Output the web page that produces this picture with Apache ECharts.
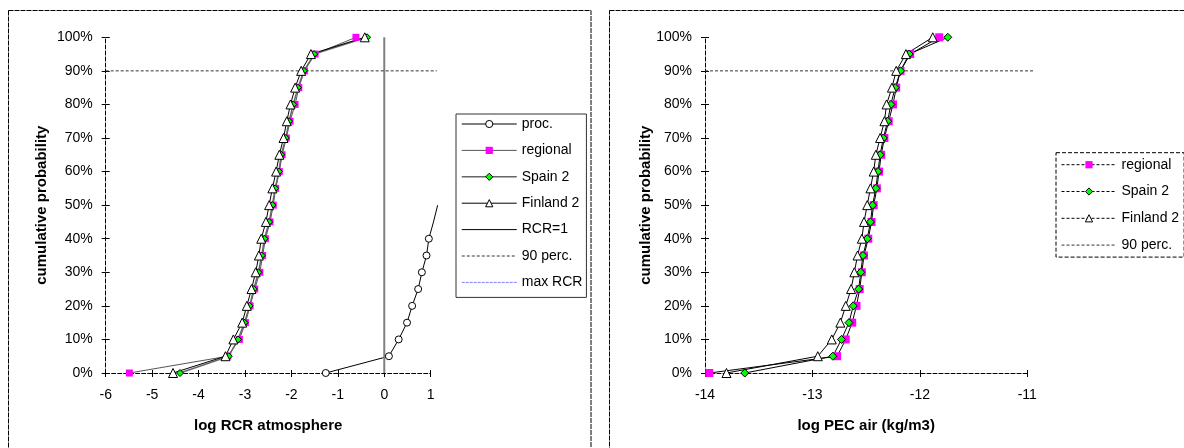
<!DOCTYPE html>
<html>
<head>
<meta charset="utf-8">
<script src="https://cdn.jsdelivr.net/npm/echarts@6/dist/echarts.min.js"></script>
<style>
  html, body { margin: 0; padding: 0; background: #fff; }
  #rcr { position: absolute; left: 0; top: 0; width: 596px; height: 448px; }
  #pec { position: absolute; left: 596px; top: 0; width: 588px; height: 448px; }
</style>
</head>
<body>
<div id="rcr"></div>
<div id="pec"></div>
<script>
// Cumulative probability levels shared by every distribution
const probs = [0, 0.05, 0.10, 0.15, 0.20, 0.25, 0.30, 0.35, 0.40, 0.45, 0.50,
               0.55, 0.60, 0.65, 0.70, 0.75, 0.80, 0.85, 0.90, 0.95, 1.00];

// log RCR atmosphere
const rcrProc     = [-1.26, 0.10, 0.31, 0.49, 0.60, 0.73, 0.81, 0.91, 0.96, 1.06, 1.15];
const rcrRegional = [-5.49, -3.37, -3.12, -2.99, -2.89, -2.79, -2.68, -2.62, -2.56, -2.46, -2.39,
                     -2.34, -2.26, -2.20, -2.11, -2.03, -1.92, -1.84, -1.72, -1.49, -0.61];
const rcrSpain2   = [-4.40, -3.35, -3.15, -3.01, -2.90, -2.81, -2.71, -2.64, -2.58, -2.48, -2.41,
                     -2.35, -2.27, -2.22, -2.12, -2.05, -1.96, -1.86, -1.73, -1.51, -0.37];
const rcrFinland2 = [-4.55, -3.42, -3.25, -3.06, -2.96, -2.86, -2.77, -2.70, -2.65, -2.55, -2.48,
                     -2.41, -2.33, -2.26, -2.17, -2.10, -2.02, -1.92, -1.79, -1.58, -0.42];
const rcrOne      = 0;          // log(RCR = 1)
const rcrMaxRcr   = [];         // maximum RCR lies outside the plotted range
const rcrXTicks   = [-6, 1];    // first and last tick, step 1
const rcrPlotEdge = 1.13;       // right edge of the plot area

// log PEC air (kg/m3)
const pecRegional = [-13.96, -12.77, -12.69, -12.63, -12.59, -12.56, -12.54, -12.52, -12.48, -12.45, -12.43,
                     -12.40, -12.38, -12.36, -12.33, -12.29, -12.25, -12.22, -12.18, -12.09, -11.82];
const pecSpain2   = [-13.63, -12.81, -12.73, -12.66, -12.62, -12.57, -12.55, -12.53, -12.49, -12.46, -12.44,
                     -12.41, -12.39, -12.37, -12.34, -12.30, -12.27, -12.23, -12.18, -12.10, -11.74];
const pecFinland2 = [-13.80, -12.95, -12.82, -12.74, -12.69, -12.64, -12.61, -12.58, -12.54, -12.52, -12.49,
                     -12.46, -12.43, -12.41, -12.37, -12.33, -12.31, -12.26, -12.22, -12.13, -11.88];
const pecXTicks   = [-14, -11];
const pecPlotEdge = -10.94;

const perc90 = 0.9;
const yTicks = [0, 1];          // 0% .. 100%, step 10%

const FONT = "'Liberation Sans', Arial, Helvetica, sans-serif";

// pair x values with probabilities; markers past the axis end are not drawn
function pairs(xs, axisMax) {
  return xs.map((x, i) => x > axisMax ? { value: [x, probs[i]], symbol: 'none' } : [x, probs[i]]);
}

// visible axes (outer ticks + labels), a twin for the inner half of each cross tick,
// and a hidden pair spanning the whole plot area for the series
function axesFor(xTicks, plotEdge, xName, yNameGap) {
  const axisLineStyle = { color: '#000', width: 1, type: 'dashed' };
  const tickStyle = { color: '#000', width: 1 };
  const xMain = {
    gridIndex: 0, type: 'value', min: xTicks[0], max: xTicks[1], interval: 1, position: 'bottom',
    axisLine: { show: true, onZero: false, lineStyle: axisLineStyle },
    axisTick: { show: true, length: 4, lineStyle: tickStyle },
    axisLabel: { margin: 15, fontSize: 14, color: '#000', fontFamily: FONT },
    splitLine: { show: false },
    name: xName, nameLocation: 'middle', nameGap: 45, nameMoveOverlap: false,
    nameTextStyle: { fontWeight: 'bold', fontSize: 15, color: '#000', fontFamily: FONT }
  };
  const xInner = {
    gridIndex: 0, type: 'value', min: xTicks[0], max: xTicks[1], interval: 1, position: 'bottom',
    axisLine: { show: false, onZero: false },
    axisTick: { show: true, inside: true, length: 3, lineStyle: tickStyle },
    axisLabel: { show: false }, splitLine: { show: false }
  };
  const xData = { gridIndex: 1, type: 'value', min: xTicks[0], max: plotEdge, show: false,
                  axisLine: { onZero: false } };
  const yMain = {
    gridIndex: 0, type: 'value', min: yTicks[0], max: yTicks[1], interval: 0.1, position: 'left',
    axisLine: { show: true, onZero: false, lineStyle: axisLineStyle },
    axisTick: { show: true, length: 4, lineStyle: tickStyle },
    axisLabel: { margin: 13, fontSize: 14, color: '#000', fontFamily: FONT,
                 formatter: v => Math.round(v * 100) + '%' },
    splitLine: { show: false },
    name: 'cumulative probability', nameLocation: 'middle', nameGap: yNameGap, nameRotate: 90,
    nameMoveOverlap: false,
    nameTextStyle: { fontWeight: 'bold', fontSize: 15, color: '#000', fontFamily: FONT }
  };
  const yInner = {
    gridIndex: 0, type: 'value', min: yTicks[0], max: yTicks[1], interval: 0.1, position: 'left',
    axisLine: { show: false, onZero: false },
    axisTick: { show: true, inside: true, length: 4, lineStyle: tickStyle },
    axisLabel: { show: false }, splitLine: { show: false }
  };
  const yData = { gridIndex: 1, type: 'value', min: yTicks[0], max: yTicks[1], show: false,
                  axisLine: { onZero: false } };
  return { xAxis: [xMain, xInner, xData], yAxis: [yMain, yInner, yData] };
}

function gridsFor(left, width, xTicks, plotEdge) {
  const span = xTicks[1] - xTicks[0];
  const top = 37.3, height = 335.7;
  return [
    { left, top, width, height, outerBoundsMode: 'none' },
    { left, top, width: width * (plotEdge - xTicks[0]) / span, height, outerBoundsMode: 'none' }
  ];
}

const onData = { xAxisIndex: 2, yAxisIndex: 2, clip: true, animation: false };
const hidden = { color: 'rgba(0,0,0,0)', borderColor: 'rgba(0,0,0,0)', borderWidth: 0 };
const legendBase = {
  orient: 'vertical', itemWidth: 55, itemHeight: 9, itemTextGap: 5,
  lineStyle: { width: 'inherit' },
  itemStyle: { borderWidth: 'inherit' },
  textStyle: { fontSize: 14, lineHeight: 16, color: '#000', fontFamily: FONT }
};

// ---------- log RCR atmosphere ----------
const rcrChart = echarts.init(document.getElementById('rcr'), null, { renderer: 'canvas' });
rcrChart.setOption(Object.assign({
  animation: false,
  backgroundColor: '#fff',
  textStyle: { fontFamily: FONT },
  grid: gridsFor(105.7, 325, rcrXTicks, rcrPlotEdge),
  graphic: [{
    type: 'rect', silent: true,
    shape: { x: 8.5, y: 10.5, width: 582.5, height: 470 },
    style: { fill: 'none', stroke: '#000', lineWidth: 1, lineDash: [5, 1] }
  }],
  legend: Object.assign({}, legendBase, {
    left: 456, top: 114,
    padding: [2, 4, 7, 5], itemGap: 10.4,
    borderColor: '#333', borderWidth: 1,
    data: [
      { name: 'proc.' },
      { name: 'regional' },
      { name: 'Spain 2' },
      { name: 'Finland 2' },
      { name: 'RCR=1', itemStyle: hidden, lineStyle: { color: '#000', width: 1 } },
      { name: '90 perc.', itemStyle: hidden },
      { name: 'max RCR', itemStyle: hidden }
    ]
  }),
  series: [
    Object.assign({
      name: 'proc.', type: 'line', data: pairs(rcrProc, rcrXTicks[1]),
      symbol: 'circle', symbolSize: 7,
      itemStyle: { color: '#fff', borderColor: '#000', borderWidth: 1 },
      lineStyle: { color: '#000', width: 1 }
    }, onData),
    Object.assign({
      name: 'regional', type: 'line', data: pairs(rcrRegional, rcrXTicks[1]),
      symbol: 'rect', symbolSize: 7,
      itemStyle: { color: '#ff00ff', borderWidth: 0 },
      lineStyle: { color: '#555', width: 1 }
    }, onData),
    Object.assign({
      name: 'Spain 2', type: 'line', data: pairs(rcrSpain2, rcrXTicks[1]),
      symbol: 'diamond', symbolSize: 7,
      itemStyle: { color: '#00ff00', borderColor: '#000', borderWidth: 1 },
      lineStyle: { color: '#666', width: 1.5 }
    }, onData),
    Object.assign({
      name: 'Finland 2', type: 'line', data: pairs(rcrFinland2, rcrXTicks[1]),
      symbol: 'triangle', symbolSize: 9,
      itemStyle: { color: '#fff', borderColor: '#000', borderWidth: 1 },
      lineStyle: { color: '#000', width: 1 }
    }, onData),
    Object.assign({
      name: 'RCR=1', type: 'line', data: [[rcrOne, yTicks[0]], [rcrOne, yTicks[1]]],
      symbol: 'none', lineStyle: { color: '#808080', width: 2 }
    }, onData),
    Object.assign({
      name: '90 perc.', type: 'line', data: [[rcrXTicks[0], perc90], [rcrPlotEdge, perc90]],
      symbol: 'none', lineStyle: { color: '#333', width: 1, type: [3, 2] }
    }, onData),
    Object.assign({
      name: 'max RCR', type: 'line', data: rcrMaxRcr,
      symbol: 'none', lineStyle: { color: '#8080ff', width: 1, type: [3, 1] }
    }, onData)
  ]
}, axesFor(rcrXTicks, rcrPlotEdge, 'log RCR atmosphere', 56)));

// ---------- log PEC air ----------
const pecChart = echarts.init(document.getElementById('pec'), null, { renderer: 'canvas' });
const legendDash = { type: [3, 2] };
pecChart.setOption(Object.assign({
  animation: false,
  backgroundColor: '#fff',
  textStyle: { fontFamily: FONT },
  grid: gridsFor(109, 322.3, pecXTicks, pecPlotEdge),
  graphic: [{
    type: 'rect', silent: true,
    shape: { x: 13.5, y: 10.5, width: 600, height: 470 },
    style: { fill: 'none', stroke: '#000', lineWidth: 1, lineDash: [5, 1] }
  }],
  legend: Object.assign({}, legendBase, {
    left: 460, top: 152.7,
    padding: [4, 5, 4, 5], itemGap: 10.8,
    borderColor: '#000', borderWidth: 1, borderType: 'dashed',
    data: [
      { name: 'regional', lineStyle: legendDash },
      { name: 'Spain 2', lineStyle: legendDash },
      { name: 'Finland 2', lineStyle: legendDash },
      { name: '90 perc.', itemStyle: hidden }
    ]
  }),
  series: [
    Object.assign({
      name: 'regional', type: 'line', data: pairs(pecRegional, pecXTicks[1]),
      symbol: 'rect', symbolSize: 8,
      itemStyle: { color: '#ff00ff', borderWidth: 0 },
      lineStyle: { color: '#000', width: 1 }
    }, onData),
    Object.assign({
      name: 'Spain 2', type: 'line', data: pairs(pecSpain2, pecXTicks[1]),
      symbol: 'diamond', symbolSize: 8,
      itemStyle: { color: '#00ff00', borderColor: '#000', borderWidth: 1 },
      lineStyle: { color: '#000', width: 1 }
    }, onData),
    Object.assign({
      name: 'Finland 2', type: 'line', data: pairs(pecFinland2, pecXTicks[1]),
      symbol: 'triangle', symbolSize: 9,
      itemStyle: { color: '#fff', borderColor: '#000', borderWidth: 1 },
      lineStyle: { color: '#000', width: 1 }
    }, onData),
    Object.assign({
      name: '90 perc.', type: 'line', data: [[pecXTicks[0], perc90], [pecPlotEdge, perc90]],
      symbol: 'none', lineStyle: { color: '#333', width: 1, type: [3, 2] }
    }, onData)
  ]
}, axesFor(pecXTicks, pecPlotEdge, 'log PEC air (kg/m3)', 52)));
</script>
</body>
</html>
